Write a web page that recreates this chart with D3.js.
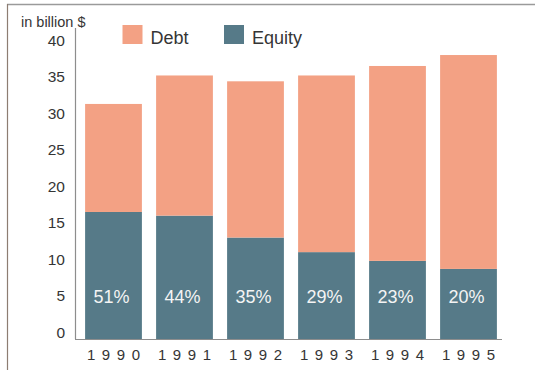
<!DOCTYPE html>
<html>
<head>
<meta charset="utf-8">
<script src="https://cdn.jsdelivr.net/npm/d3@7"></script>
<style>
  html, body { margin: 0; padding: 0; background: #ffffff; }
  svg { display: block; }
  text { font-family: "Liberation Sans", Arial, Helvetica, sans-serif; }
</style>
</head>
<body>
<svg id="chart" width="535" height="370"></svg>
<script>
// Financing by year, in billion $
const years = ["1990", "1991", "1992", "1993", "1994", "1995"];
const equity = [17.4, 16.9, 13.9, 11.9, 10.7, 9.6];
const debt = [14.8, 19.2, 21.4, 24.2, 26.7, 29.3];
const equityShare = ["51%", "44%", "35%", "29%", "23%", "20%"];
const yTicks = [0, 5, 10, 15, 20, 25, 30, 35, 40];
const seriesNames = ["Debt", "Equity"];

const colors = { Debt: "#f3a184", Equity: "#567a88" };
const ink = "#353535";

const svg = d3.select("#chart");

// outer frame: top and left rules
svg.append("line").attr("x1", 7).attr("x2", 535).attr("y1", 4.5).attr("y2", 4.5)
  .attr("stroke", "#9a9a9a").attr("stroke-width", 1.5);
svg.append("line").attr("x1", 7.5).attr("x2", 7.5).attr("y1", 4).attr("y2", 370)
  .attr("stroke", "#8d7d72").attr("stroke-width", 1.2);

const x = d3.scaleBand().domain(years).range([78, 504]).paddingInner(0.2).paddingOuter(0.1);
const y = d3.scaleLinear().domain([0, 40]).range([339, 47]);

const rows = years.map((yr, i) => ({ year: yr, Equity: equity[i], Debt: debt[i], share: equityShare[i] }));
const stack = d3.stack().keys(["Equity", "Debt"])(rows);

svg.append("g").selectAll("g").data(stack).join("g")
  .attr("fill", d => colors[d.key])
  .selectAll("rect").data(d => d).join("rect")
  .attr("x", d => x(d.data.year))
  .attr("width", x.bandwidth())
  .attr("y", d => y(d[1]))
  .attr("height", d => y(d[0]) - y(d[1]));

// equity share labels inside the lower segment
svg.append("g").selectAll("text").data(rows).join("text")
  .attr("x", d => x(d.year) + x.bandwidth() / 2 - 2)
  .attr("y", y(0) - 36)
  .attr("text-anchor", "middle")
  .attr("fill", "#f4f4f4")
  .attr("font-size", 18)
  .text(d => d.share);

// y axis
const yAxis = svg.append("g").attr("transform", "translate(75,0)")
  .call(d3.axisLeft(y).tickValues(yTicks).tickSize(0).tickPadding(10));
yAxis.select(".domain").attr("stroke", "#8d8d8d").attr("stroke-width", 1.2)
  .attr("d", `M0.5,28V${y(0)}`);
yAxis.selectAll("text").attr("fill", ink).attr("font-size", 15.5)
  .attr("dy", "-0.13em")
  .attr("font-family", "'Liberation Sans', Arial, sans-serif");

// x axis
const xAxis = svg.append("g").attr("transform", `translate(0,${y(0)})`)
  .call(d3.axisBottom(x).tickSize(0).tickPadding(10));
xAxis.select(".domain").attr("stroke", "#8d8d8d").attr("stroke-width", 1.2)
  .attr("d", "M75,0.5H502");
xAxis.selectAll("text").attr("fill", ink).attr("font-size", 15)
  .attr("letter-spacing", "6.6px").attr("dx", "3.3px")
  .attr("font-family", "'Liberation Sans', Arial, sans-serif");

// unit label
svg.append("text").attr("x", 21).attr("y", 27).attr("fill", ink).attr("font-size", 14.5)
  .text("in billion $");

// legend
const legend = svg.append("g").selectAll("g").data(seriesNames).join("g")
  .attr("transform", (d, i) => `translate(${[122.5, 224][i]},25)`);
legend.append("rect").attr("width", 20).attr("height", 19).attr("fill", d => colors[d]);
legend.append("text").attr("x", 28).attr("y", 18.5).attr("fill", ink).attr("font-size", 18)
  .text(d => d);
</script>
</body>
</html>
